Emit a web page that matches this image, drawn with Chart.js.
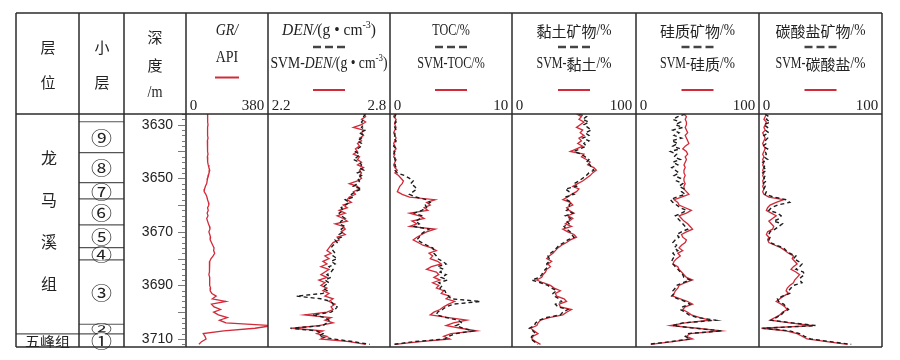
<!DOCTYPE html>
<html>
<head>
<meta charset="utf-8">
<script src="https://cdn.jsdelivr.net/npm/chart.js@4/dist/chart.umd.min.js"></script>
<style>
  html, body { margin: 0; padding: 0; background: #fff; }
  #wrap { width: 900px; height: 360px; }
</style>
</head>
<body>
<div id="wrap"><canvas id="logChart" width="900" height="360"></canvas></div>
<script>
//----------------------------Data (depth in m)
var depth = [3626, 3627, 3628, 3629, 3630, 3631, 3632, 3633, 3634, 3635,
  3636, 3637, 3638, 3639, 3640, 3641, 3642, 3643, 3644, 3645,
  3646, 3647, 3648, 3649, 3650, 3651, 3652, 3653, 3654, 3655,
  3656, 3657, 3658, 3659, 3660, 3661, 3662, 3663, 3664, 3665,
  3666, 3667, 3668, 3669, 3670, 3671, 3672, 3673, 3674, 3675,
  3676, 3677, 3678, 3679, 3680, 3681, 3682, 3683, 3684, 3685,
  3686, 3687, 3688, 3689, 3690, 3691, 3692, 3693, 3694, 3695,
  3696, 3697, 3698, 3699, 3700, 3701, 3702, 3703, 3704, 3705,
  3706, 3707, 3708, 3709, 3710, 3711, 3712];

var grAPI = [100, 101, 99, 101, 102, 100, 99, 101, 100, 102,
  99, 100, 101, 99, 100, 102, 99, 100, 101, 103,
  106, 110, 107, 102, 100, 98, 96, 90, 86, 84,
  92, 97, 100, 104, 106, 100, 103, 98, 102, 96,
  100, 104, 109, 111, 106, 110, 114, 112, 118, 124,
  130, 128, 133, 126, 116, 110, 108, 111, 107, 109,
  106, 110, 108, 111, 110, 114, 112, 120, 140, 122,
  185, 118, 130, 160, 128, 150, 192, 155, 185, 400,
  320, 175, 80, 88, 93, 72, 60];

var denLog = [2.68, 2.67, 2.67, 2.66, 2.67, 2.66, 2.68, 2.65, 2.67, 2.66,
  2.64, 2.66, 2.66, 2.64, 2.63, 2.65, 2.64, 2.62, 2.65, 2.66,
  2.65, 2.67, 2.64, 2.66, 2.64, 2.65, 2.64, 2.62, 2.66, 2.63,
  2.61, 2.62, 2.58, 2.60, 2.58, 2.56, 2.57, 2.55, 2.56, 2.58,
  2.56, 2.55, 2.58, 2.56, 2.57, 2.55, 2.56, 2.53, 2.54, 2.52,
  2.51, 2.52, 2.53, 2.52, 2.54, 2.51, 2.53, 2.50, 2.52, 2.51,
  2.49, 2.51, 2.48, 2.50, 2.48, 2.47, 2.49, 2.47, 2.34, 2.46,
  2.51, 2.52, 2.54, 2.53, 2.51, 2.42, 2.48, 2.50, 2.49, 2.47,
  2.31, 2.44, 2.47, 2.45, 2.52, 2.62, 2.70];
var denSVM = [2.67, 2.68, 2.66, 2.68, 2.66, 2.62, 2.67, 2.66, 2.67, 2.65,
  2.66, 2.64, 2.65, 2.63, 2.64, 2.62, 2.65, 2.64, 2.66, 2.64,
  2.67, 2.65, 2.66, 2.65, 2.66, 2.64, 2.60, 2.64, 2.65, 2.62,
  2.63, 2.60, 2.59, 2.61, 2.57, 2.59, 2.55, 2.58, 2.54, 2.57,
  2.59, 2.53, 2.57, 2.58, 2.56, 2.58, 2.54, 2.55, 2.52, 2.51,
  2.50, 2.49, 2.51, 2.48, 2.50, 2.47, 2.49, 2.46, 2.50, 2.48,
  2.46, 2.49, 2.45, 2.48, 2.46, 2.49, 2.47, 2.50, 2.48, 2.52,
  2.50, 2.53, 2.51, 2.52, 2.49, 2.38, 2.51, 2.48, 2.52, 2.45,
  2.32, 2.47, 2.44, 2.49, 2.46, 2.60, 2.68];

var tocLog = [0.5, 0.4, 0.4, 0.5, 0.3, 0.4, 0.5, 0.4, 0.4, 0.3,
  0.5, 0.4, 0.3, 0.5, 0.4, 0.3, 0.4, 0.4, 0.5, 0.4,
  0.5, 0.4, 0.6, 1.2, 1.6, 1.9, 1.7, 2.0, 2.2, 1.9,
  1.6, 2.1, 3.0, 3.3, 2.9, 3.0, 2.6, 2.0, 2.6, 2.5,
  2.1, 2.4, 2.0, 3.2, 2.8, 2.5, 2.4, 2.2, 2.6, 3.0,
  3.5, 3.6, 3.6, 3.8, 3.9, 4.3, 4.6, 3.9, 4.4, 4.1,
  4.6, 4.2, 4.7, 4.0, 4.3, 4.1, 4.5, 4.6, 4.8, 5.0,
  7.4, 5.2, 4.6, 4.3, 3.9, 3.8, 4.6, 5.6, 5.9, 5.4,
  6.0, 6.8, 5.4, 4.8, 4.5, 2.0, 0.3];
var tocSVM = [0.4, 0.3, 0.5, 0.4, 0.4, 0.5, 0.4, 0.3, 0.4, 0.5,
  0.4, 0.3, 0.4, 0.5, 0.3, 0.4, 0.3, 0.5, 0.4, 0.3,
  0.4, 0.6, 0.4, 0.7, 0.9, 1.1, 1.0, 0.8, 0.7, 0.6,
  1.0, 1.6, 3.7, 3.0, 3.3, 2.8, 3.1, 1.6, 2.4, 2.8,
  1.8, 2.2, 1.6, 3.7, 3.0, 2.6, 2.2, 1.9, 2.3, 2.7,
  3.4, 3.8, 3.2, 3.5, 3.3, 3.9, 4.2, 3.4, 3.0, 3.8,
  4.0, 3.6, 4.1, 3.5, 4.0, 3.8, 4.4, 4.2, 4.9, 4.6,
  5.3, 4.8, 4.4, 4.1, 3.6, 3.3, 4.8, 6.3, 5.2, 4.6,
  5.8, 7.1, 5.0, 4.4, 4.9, 2.5, 0.4];

var clayLog = [54, 60, 57, 62, 58, 61, 64, 59, 62, 57,
  62, 58, 60, 55, 50, 56, 59, 62, 60, 63,
  64, 66, 62, 60, 57, 54, 50, 52, 43, 46,
  50, 43, 44, 48, 46, 47, 44, 49, 43, 47,
  44, 46, 42, 44, 47, 48, 50, 45, 42, 38,
  36, 34, 31, 29, 30, 30, 28, 29, 27, 25,
  24, 22, 16, 23, 29, 32, 36, 33, 34, 38,
  40, 35, 37, 45, 41, 39, 28, 22, 19, 18,
  14, 17, 19, 16, 15, 18, 21];
var claySVM = [52, 56, 54, 58, 55, 52, 57, 55, 58, 54,
  56, 53, 57, 52, 47, 58, 56, 60, 63, 61,
  66, 68, 65, 63, 60, 57, 53, 49, 54, 52,
  48, 45, 41, 47, 49, 44, 46, 50, 45, 49,
  46, 43, 48, 41, 45, 50, 52, 47, 44, 40,
  37, 35, 33, 30, 28, 32, 29, 31, 28, 27,
  25, 24, 20, 25, 31, 34, 39, 35, 36, 42,
  44, 38, 39, 48, 44, 41, 30, 23, 21, 20,
  15, 18, 21, 17, 16, 19, 23];

var silLog = [40, 34, 30, 36, 32, 38, 30, 35, 31, 37,
  29, 34, 30, 36, 28, 33, 31, 36, 30, 34,
  29, 32, 35, 31, 36, 33, 38, 35, 39, 37,
  40, 33, 28, 30, 33, 36, 41, 37, 32, 34,
  36, 38, 40, 42, 37, 33, 35, 32, 30, 33,
  31, 34, 30, 32, 30, 29, 30, 32, 34, 36,
  38, 39, 44, 38, 33, 32, 30, 31, 29, 34,
  40, 44, 38, 36, 40, 43, 50, 65, 38, 30,
  48, 70, 42, 40, 44, 28, 10];
var silSVM = [39, 41, 40, 41, 41, 40, 41, 42, 40, 41,
  42, 43, 40, 38, 41, 42, 40, 41, 40, 39,
  40, 39, 39, 40, 39, 39, 40, 39, 39, 41,
  43, 37, 31, 34, 35, 40, 45, 41, 35, 37,
  39, 42, 44, 46, 41, 37, 38, 41, 40, 37,
  35, 38, 34, 36, 33, 31, 30, 34, 35, 37,
  39, 41, 46, 40, 35, 34, 32, 31, 30, 36,
  42, 46, 40, 38, 42, 45, 52, 60, 40, 28,
  50, 69, 44, 41, 46, 30, 12];

var carbLog = [5, 8, 6, 9, 4, 7, 5, 8, 4, 7,
  5, 6, 3, 7, 5, 6, 4, 7, 3, 5,
  4, 6, 3, 5, 4, 6, 3, 5, 4, 6,
  5, 12, 22, 25, 15, 10, 8, 15, 18, 17,
  12, 19, 16, 13, 9, 8, 9, 8, 9, 14,
  20, 22, 25, 30, 28, 32, 35, 33, 30, 36,
  37, 34, 33, 35, 28, 26, 24, 25, 19, 15,
  16, 20, 22, 24, 20, 18, 14, 10, 27, 46,
  3, 25, 33, 37, 42, 58, 75];
var carbSVM = [6, 5, 4, 6, 5, 4, 5, 3, 4, 5,
  4, 3, 4, 5, 4, 3, 4, 3, 4, 3,
  4, 3, 4, 3, 4, 3, 4, 3, 4, 3,
  4, 8, 20, 14, 9, 7, 6, 10, 14, 11,
  8, 10, 12, 11, 7, 6, 8, 7, 8, 13,
  18, 21, 24, 28, 27, 29, 31, 28, 26, 30,
  33, 31, 29, 28, 25, 23, 22, 24, 20, 17,
  14, 18, 21, 23, 19, 17, 13, 9, 25, 44,
  2, 22, 31, 35, 39, 55, 72];

// track axes
var trackIds = ['xGR', 'xDEN', 'xTOC', 'xClay', 'xSil', 'xCarb'];
var trackMin = [0, 2.2, 0, 0, 0, 0];
var trackMax = [380, 2.8, 10, 100, 100, 100];
var depthLabels = [3630, 3650, 3670, 3690, 3710];

// stratigraphy
var subLayerTops = [3628.9, 3640.4, 3651.6, 3657.7, 3667.4, 3675.9, 3680.5, 3704.5, 3708.1];
var subLayerNames = ['⑨', '⑧', '⑦', '⑥', '⑤', '④', '③', '②', '①'];
var formationNames = ['龙马溪组', '五峰组'];
var formationBase = 3708.1;

//----------------------------Style
var RED = '#d22a38';
var BLACK = '#1c1c1c';
var LINE = '#2b2b2b';
var SERIF = "'Liberation Serif', serif";
var CJK = "'Noto Sans CJK SC', sans-serif";
var trackWeights = [82, 122, 122, 124, 123, 123];
var colX = [16, 79, 124];
var HALF = 7.5; // half-width advance of latin header text

var N17 = '17px ' + SERIF, I17 = 'italic 17px ' + SERIF, SUP = '11px ' + SERIF, C15 = '15px ' + CJK;

// header lines: parts, then optional fit width for the whole line
var headLines = [
  [[{t: 'GR/', f: I17, hw: 1}], 0, [{t: 'API', f: N17, hw: 1}], 0],
  [[{t: 'DEN/', f: I17}, {t: '(g • cm', f: N17}, {t: '-3', f: SUP, dy: -6}, {t: ')', f: N17}], 94,
   [{t: 'SVM-', f: N17}, {t: 'DEN/', f: I17}, {t: '(g • cm', f: N17}, {t: '-3', f: SUP, dy: -6}, {t: ')', f: N17}], 117],
  [[{t: 'TOC/%', f: N17, hw: 1}], 0, [{t: 'SVM-TOC/%', f: N17, hw: 1}], 0],
  [[{t: '黏土矿物', f: C15}, {t: '/%', f: N17, hw: 1}], 0,
   [{t: 'SVM-', f: N17, hw: 1}, {t: '黏土', f: C15}, {t: '/%', f: N17, hw: 1}], 0],
  [[{t: '硅质矿物', f: C15}, {t: '/%', f: N17, hw: 1}], 0,
   [{t: 'SVM-', f: N17, hw: 1}, {t: '硅质', f: C15}, {t: '/%', f: N17, hw: 1}], 0],
  [[{t: '碳酸盐矿物', f: C15}, {t: '/%', f: N17, hw: 1}], 0,
   [{t: 'SVM-', f: N17, hw: 1}, {t: '碳酸盐', f: C15}, {t: '/%', f: N17, hw: 1}], 0]
];

// draws a run of text parts centred on cx; half-width parts are squeezed to HALF per char
function richText(ctx, parts, cx, cy, fitW) {
  var w = 0;
  parts.forEach(function (p) {
    ctx.font = p.f;
    p.nat = ctx.measureText(p.t).width;
    p.w = p.hw ? p.t.length * HALF : p.nat;
    w += p.w;
  });
  var sx = fitW ? fitW / w : 1;
  ctx.save();
  ctx.translate(cx - w * sx / 2, cy);
  ctx.scale(sx, 1);
  var x = 0;
  parts.forEach(function (p) {
    ctx.save();
    ctx.translate(x, p.dy || 0);
    ctx.scale(p.w / p.nat, 1);
    ctx.font = p.f;
    ctx.fillText(p.t, 0, 0);
    ctx.restore();
    x += p.w;
  });
  ctx.restore();
}

function seg(ctx, x1, y1, x2, y2) {
  ctx.beginPath(); ctx.moveTo(x1, y1); ctx.lineTo(x2, y2); ctx.stroke();
}

function series(vals) {
  return vals.map(function (v, i) { return {x: v, y: depth[i]}; });
}

//----------------------------Table plugin
var wellTable = {
  id: 'wellTable',
  afterDraw: function (chart) {
    var ctx = chart.ctx, area = chart.chartArea, ys = chart.scales.y;
    var top = 13, head = area.top, bottom = area.bottom;
    var trackEdges = trackIds.map(function (id) { return chart.scales[id].left; });
    trackEdges.push(chart.scales[trackIds[trackIds.length - 1]].right);
    ctx.save();

    // depth ticks
    ctx.strokeStyle = '#7a7a7a'; ctx.lineWidth = 1;
    for (var d = 3626; d <= 3712; d += 2) {
      var py = Math.round(ys.getPixelForValue(d)) + 0.5;
      var len = d % 10 === 0 ? 7 : 3;
      seg(ctx, area.left - 1 - len, py, area.left - 1, py);
    }

    // formations
    ctx.textAlign = 'center'; ctx.textBaseline = 'middle';
    var fb = ys.getPixelForValue(formationBase);
    ctx.font = '16px ' + CJK; ctx.fillStyle = '#222';
    var mid = (head + fb) / 2;
    formationNames[0].split('').forEach(function (c, i) { ctx.fillText(c, 49, mid - 66 + i * 42); });
    ctx.save();
    ctx.translate((colX[0] + colX[1]) / 2, (fb + bottom) / 2 + 1);
    ctx.scale(1, 0.85);
    ctx.font = '15px ' + CJK;
    ctx.fillText(formationNames[1], 0, 0);
    ctx.restore();

    // sub-layer boundaries
    ctx.strokeStyle = '#555'; ctx.lineWidth = 1.2;
    subLayerTops.forEach(function (t) {
      var py = ys.getPixelForValue(t);
      seg(ctx, colX[1], py, colX[2], py);
    });
    seg(ctx, colX[0], fb, colX[1], fb);

    // sub-layer labels (circled digits, squeezed in thin layers)
    subLayerNames.forEach(function (n, i) {
      var a = ys.getPixelForValue(subLayerTops[i]);
      var b = ys.getPixelForValue(i + 1 < subLayerTops.length ? subLayerTops[i + 1] : ys.max);
      var cy = (a + b) / 2, cx = (colX[1] + colX[2]) / 2;
      var sy = Math.min(0.88, (b - a - 2) / 13);
      ctx.save();
      ctx.translate(cx, cy);
      ctx.scale(1, sy);
      ctx.fillStyle = '#fff';
      ctx.beginPath(); ctx.arc(0, 0, 8, 0, Math.PI * 2); ctx.fill();
      ctx.fillStyle = '#222';
      ctx.font = '21px ' + CJK;
      ctx.fillText(n, 0, 1);
      ctx.restore();
    });

    // left header
    ctx.fillStyle = '#222';
    ctx.font = '15px ' + CJK;
    ctx.fillText('层', 48, 47); ctx.fillText('位', 48, 82);
    ctx.fillText('小', 102, 47); ctx.fillText('层', 102, 82);
    ctx.fillText('深', 155, 37); ctx.fillText('度', 155, 65);
    ctx.textAlign = 'left';
    richText(ctx, [{t: '/m', f: N17, hw: 1}], 155, 93, 0);

    // track headers
    headLines.forEach(function (h, i) {
      var cx = (trackEdges[i] + trackEdges[i + 1]) / 2;
      if (i === 0) {
        richText(ctx, h[0], cx, 31, h[1]);
        richText(ctx, h[2], cx, 58, h[3]);
        ctx.strokeStyle = RED; ctx.lineWidth = 2;
        seg(ctx, cx - 12, 77.5, cx + 12, 77.5);
        return;
      }
      richText(ctx, h[0], cx, 31, h[1]);
      ctx.strokeStyle = '#444'; ctx.lineWidth = 2.5;
      for (var k = 0; k < 3; k++) seg(ctx, cx - 16 + k * 12, 47, cx - 8 + k * 12, 47);
      richText(ctx, h[2], cx, 64, h[3]);
      ctx.strokeStyle = RED; ctx.lineWidth = 2;
      seg(ctx, cx - 16, 90, cx + 16, 90);
    });

    // table frame
    ctx.strokeStyle = LINE; ctx.lineWidth = 1.5;
    var right = trackEdges[trackEdges.length - 1];
    seg(ctx, colX[0], top, right, top);
    seg(ctx, colX[0], head, right, head);
    seg(ctx, colX[0], bottom, right, bottom);
    colX.concat(trackEdges).forEach(function (x) { seg(ctx, x, top, x, bottom); });
    ctx.restore();
  }
};

//----------------------------Chart
var scales = {
  y: {
    type: 'linear', position: 'left', reverse: true, min: 3626, max: 3713,
    afterFit: function (s) { s.width = 62; },
    afterBuildTicks: function (s) { s.ticks = depthLabels.map(function (v) { return {value: v}; }); },
    grid: {display: true, drawOnChartArea: false, drawTicks: true, tickLength: 10, tickColor: 'rgba(0,0,0,0)'},
    border: {display: false},
    ticks: {padding: 3, autoSkip: false, color: '#222', font: {family: 'Liberation Sans', size: 14, lineHeight: 1},
      callback: function (v) { return String(v); }}
  }
};
// top boxes are laid out in reverse order, so add the last track first
for (var i = trackIds.length - 1; i >= 0; i--) {
  (function (i) {
    scales[trackIds[i]] = {
      type: 'linear', position: 'top', stack: 'tracks', stackWeight: trackWeights[i],
      min: trackMin[i], max: trackMax[i],
      afterBuildTicks: function (s) { s.ticks = [{value: trackMin[i]}, {value: trackMax[i]}]; },
      afterFit: function (s) { s.height = 101; },
      grid: {display: false, drawTicks: false},
      border: {display: false},
      ticks: {
        align: 'inner', maxRotation: 0, autoSkip: false, padding: 0, color: '#222',
        font: {family: 'Liberation Serif', size: 15, lineHeight: 1},
        callback: function (v, idx) { return idx === 0 ? ' ' + v : v + ' '; }
      }
    };
  })(i);
}

function logSet(label, vals, axis) {
  return {label: label, data: series(vals), xAxisID: axis, yAxisID: 'y',
    borderColor: BLACK, borderWidth: 1.4, borderDash: [4, 3]};
}
function svmSet(label, vals, axis) {
  return {label: label, data: series(vals), xAxisID: axis, yAxisID: 'y',
    borderColor: RED, borderWidth: 1.3};
}

var ctx = document.getElementById('logChart').getContext('2d');
var chart = new Chart(ctx, {
  type: 'line',
  data: {
    datasets: [
      svmSet('GR', grAPI, 'xGR'),
      logSet('DEN', denLog, 'xDEN'), svmSet('SVM-DEN', denSVM, 'xDEN'),
      logSet('TOC', tocLog, 'xTOC'), svmSet('SVM-TOC', tocSVM, 'xTOC'),
      logSet('黏土矿物', clayLog, 'xClay'), svmSet('SVM-黏土', claySVM, 'xClay'),
      logSet('硅质矿物', silLog, 'xSil'), svmSet('SVM-硅质', silSVM, 'xSil'),
      logSet('碳酸盐矿物', carbLog, 'xCarb'), svmSet('SVM-碳酸盐', carbSVM, 'xCarb')
    ]
  },
  options: {
    responsive: false,
    animation: false,
    indexAxis: 'y',
    events: [],
    layout: {padding: {left: 124, right: 18, top: 13, bottom: 13}},
    elements: {point: {radius: 0}, line: {tension: 0, fill: false}},
    plugins: {legend: {display: false}, tooltip: {enabled: false}},
    scales: scales
  },
  plugins: [wellTable]
});
</script>
</body>
</html>
